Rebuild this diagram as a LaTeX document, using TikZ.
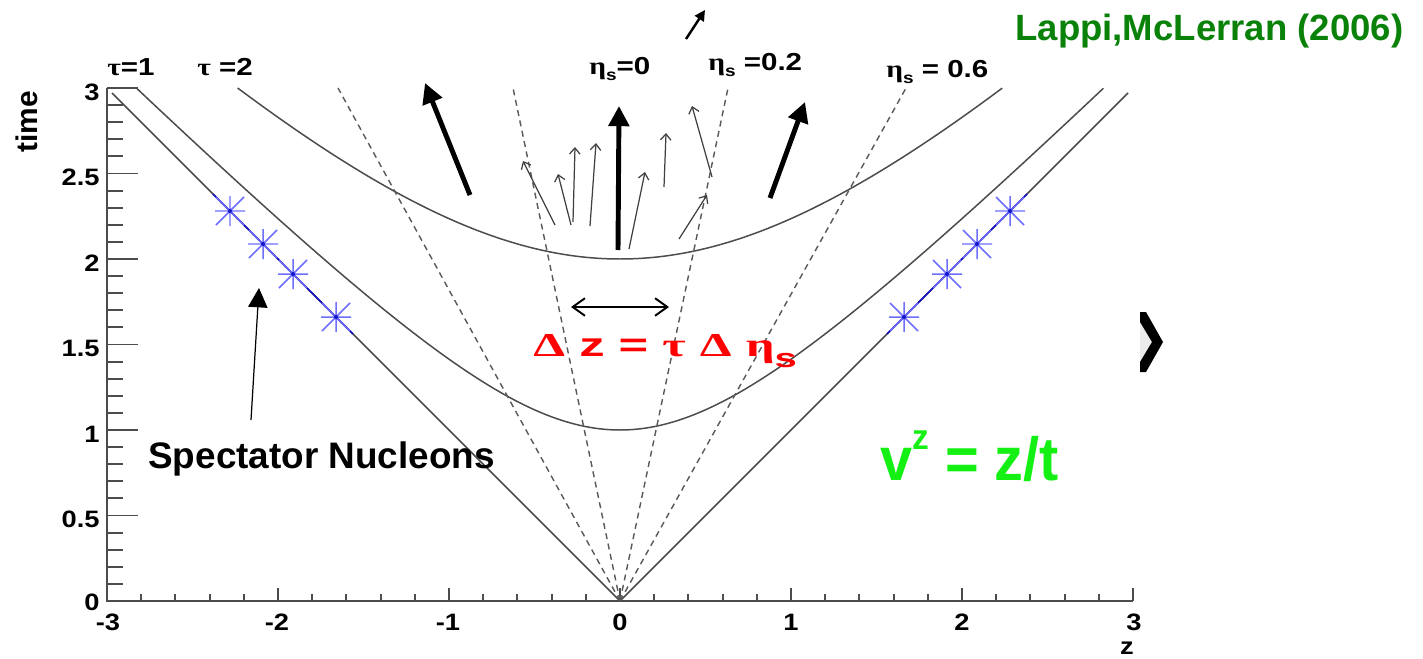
\documentclass[tikz,border=0pt]{standalone}
\usepackage{fontspec}
\setmainfont{Liberation Sans}
\newfontfamily\grk{Liberation Serif}
\usetikzlibrary{arrows.meta}
\definecolor{curvecol}{gray}{0.3}
\definecolor{dashcol}{gray}{0.35}
\definecolor{starcol}{RGB}{110,110,255}
\definecolor{stardot}{RGB}{20,20,200}
\definecolor{labgreen}{RGB}{10,130,10}
\definecolor{brightgreen}{RGB}{20,240,20}
\newcommand\sxa[1]{\scalebox{1.15}[1]{#1}}
\newcommand\sxb[1]{\scalebox{1.2}[1]{#1}}
\tikzset{
  curve/.style={draw=curvecol, line width=0.85pt},
  cone/.style={draw=curvecol, line width=0.85pt},
  dashline/.style={draw=dashcol, line width=0.8pt, dash pattern=on 3.4pt off 2.6pt},
  axisline/.style={draw=curvecol, line width=1.1pt},
  tickmark/.style={draw=curvecol, line width=1.1pt},
  ticklab/.style={font=\bfseries\fontsize{13.5}{13.5}\selectfont, inner sep=0pt},
  toplab/.style={font=\bfseries\fontsize{14}{14}\selectfont, inner sep=0pt, anchor=base west},
  thickarrow/.style={line width=2.8pt, -{Triangle[length=11.5pt,width=11.5pt]}},
  thinarrow/.style={draw=black!75, line width=0.7pt, -{Straight Barb[length=3.5pt,width=6pt]}},
  bluelink/.style={draw=stardot, line width=0.9pt},
  nucstar/.pic={
    \draw[starcol, line width=0.85pt] (-15,0)--(15,0) (0,-15)--(0,15) (-14,-14)--(14,14) (-14,14)--(14,-14);
    \fill[stardot] (0,0) circle (2);
  }
}
\begin{document}
\begin{tikzpicture}[x=0.02cm,y=-0.02cm]
\useasboundingbox (0,0) rectangle (1423,659);
\fill[white] (0,0) rectangle (1423,659);

% axes
\coordinate (O) at (620,601);
\coordinate (Ytop) at (107,88);
\coordinate (Xorig) at (107,601);
\coordinate (Xend) at (1133,601);
\foreach \i in {0,...,30} \draw[tickmark] (107,{601-17.1*\i}) -- ++(16,0);
\foreach \i in {0,...,6} \draw[tickmark] (107,{601-85.5*\i}) -- ++(31,0);
\foreach \i in {0,...,30} \draw[tickmark] ({107+34.2*\i},601) -- ++(0,-7);
\foreach \i in {0,...,6} \draw[tickmark] ({107+171*\i},601) -- ++(0,-13);
\draw[axisline] (Ytop) -- (Xorig) -- (Xend);

% y tick labels
\node[ticklab,anchor=east] (y0) at (100,602) {\sxa{0}};
\node[ticklab,anchor=east] (y05) at (100,519) {\sxa{0.5}};
\node[ticklab,anchor=east] (y1) at (100,434) {\sxa{1}};
\node[ticklab,anchor=east] (y15) at (100,348) {\sxa{1.5}};
\node[ticklab,anchor=east] (y2) at (100,263) {\sxa{2}};
\node[ticklab,anchor=east] (y25) at (100,177) {\sxa{2.5}};
\node[ticklab,anchor=east] (y3) at (100,92) {\sxa{3}};
% x tick labels
\node[ticklab,anchor=north] (xm3) at (108,614) {\sxa{-3}};
\node[ticklab,anchor=north] (xm2) at (277,614) {\sxa{-2}};
\node[ticklab,anchor=north] (xm1) at (448,614) {\sxa{-1}};
\node[ticklab,anchor=north] (x0) at (620,614) {\sxa{0}};
\node[ticklab,anchor=north] (x1) at (791,614) {\sxa{1}};
\node[ticklab,anchor=north] (x2) at (962,614) {\sxa{2}};
\node[ticklab,anchor=north] (x3) at (1134,614) {\sxa{3}};
\node[ticklab] (zlab) at (1127,648) {\sxa{z}};
\node[font=\bfseries\fontsize{17}{17}\selectfont, inner sep=0pt] (timelab) at (27,122) {\rotatebox{90}{time}};

% light cone
\coordinate (LCl) at (112,93);
\coordinate (LCr) at (1128,93);
\draw[cone] (LCl) -- (O) -- (LCr);
% hyperbolas tau=1, tau=2
\draw[curve] plot[domain=-2.828:2.828, samples=141] ({620+171*\x},{601-171*sqrt(1+\x*\x)});
\draw[curve] plot[domain=-2.236:2.236, samples=141] ({620+171*\x},{601-171*sqrt(4+\x*\x)});
% eta_s lines
\coordinate (Dl6) at (338,88);
\coordinate (Dl2) at (513,88);
\coordinate (Dr2) at (728,88);
\coordinate (Dr6) at (906,88);
\draw[dashline] (O) -- (Dl6);
\draw[dashline] (O) -- (Dl2);
\draw[dashline] (O) -- (Dr2);
\draw[dashline] (O) -- (Dr6);

% blue nucleon segments and stars
\coordinate (Bl1) at (213,194);
\coordinate (Bl2) at (353,334);
\coordinate (Br1) at (887,334);
\coordinate (Br2) at (1027,194);
\draw[bluelink] (Bl1) -- (Bl2);
\draw[bluelink] (Br1) -- (Br2);
\foreach \p in {(230,211),(263,244),(293,274),(336,317),(904,317),(947,274),(977,244),(1010,211)}
  \pic at \p {nucstar};

% thick arrows
\coordinate (TAl0) at (470,195); \coordinate (TAl1) at (425,83);
\coordinate (TAc0) at (618,250); \coordinate (TAc1) at (619,106);
\coordinate (TAr0) at (770,198); \coordinate (TAr1) at (805,102);
\draw[thickarrow] (TAl0) -- (TAl1);
\draw[thickarrow] (TAc0) -- (TAc1);
\draw[thickarrow] (TAr0) -- (TAr1);
% thin arrows
\coordinate (a0) at (555,225); \coordinate (a1) at (523,161);
\coordinate (b0) at (571,225); \coordinate (b1) at (558,174);
\coordinate (c0) at (573,222); \coordinate (c1) at (575,147);
\coordinate (d0) at (590,226); \coordinate (d1) at (596,143);
\coordinate (e0) at (629,249); \coordinate (e1) at (645,172);
\coordinate (f0) at (664,187); \coordinate (f1) at (666,133);
\coordinate (g0) at (679,239); \coordinate (g1) at (707,195);
\coordinate (h0) at (712,177); \coordinate (h1) at (692,106);
\foreach \s/\t in {a0/a1,b0/b1,c0/c1,d0/d1,e0/e1,f0/f1,g0/g1,h0/h1}
  \draw[thinarrow] (\s) -- (\t);
% small arrow at top
\coordinate (sa0) at (686,39); \coordinate (sa1) at (705,10);
\draw[line width=1.4pt, -{Triangle[length=6pt,width=6pt]}] (sa0) -- (sa1);

% double arrow
\coordinate (da0) at (571,307); \coordinate (da1) at (669,307);
\draw[line width=1.1pt, {Straight Barb[length=7pt,width=10pt]}-{Straight Barb[length=7pt,width=10pt]}] (da0) -- (da1);

% labels
\node[toplab] (tau1) at (107,75) {\sxb{{\grk τ}=1}};
\node[toplab] (tau2) at (197,75) {\sxb{{\grk τ} =2}};
\node[toplab] (eta0) at (589,74) {\sxb{{\grk η}\raisebox{-0.25em}{\fontsize{9}{9}\selectfont s}=0}};
\node[toplab] (eta2) at (708,70) {\sxb{{\grk η}\raisebox{-0.25em}{\fontsize{9}{9}\selectfont s} =0.2}};
\node[toplab] (eta6) at (886,77) {\sxb{{\grk η}\raisebox{-0.25em}{\fontsize{9}{9}\selectfont s} = 0.6}};

\node[font=\bfseries\fontsize{20.8}{20.8}\selectfont, text=labgreen, inner sep=0pt, anchor=base west] (cite) at (1015,40) {Lappi,McLerran (2006)};

\node[font=\bfseries\fontsize{21}{21}\selectfont, inner sep=0pt, anchor=base west] (spec) at (148,468) {Spectator Nucleons};
\coordinate (sp0) at (251,420); \coordinate (sp1) at (259,288);
\draw[line width=0.7pt, draw=black, -{Triangle[length=11pt,width=11pt]}] (sp0) -- (sp1);

\node[font=\bfseries\fontsize{19}{19}\selectfont, text=red, inner sep=0pt, anchor=base west] (dz) at (533,356)
  {\scalebox{1.52}[1]{{\grk Δ} z = {\grk τ} {\grk Δ} {\grk η}\raisebox{-0.35em}{\fontsize{15}{15}\selectfont s}}};

\node[font=\bfseries\fontsize{31}{31}\selectfont, text=brightgreen, inner sep=0pt, anchor=base west] (vz) at (880,480)
  {\scalebox{1.06}[1.12]{v\raisebox{0.5em}{\fontsize{18}{18}\selectfont z} = z/t}};

% navigation chevron
\fill[gray!15] (1140,322) -- (1152,342) -- (1140,362) -- cycle;
\fill[black] (1140,312) -- (1146,312) -- (1163,342) -- (1146,372) -- (1140,372) -- (1140,362) -- (1152,342) -- (1140,322) -- cycle;
\end{tikzpicture}
\end{document}
